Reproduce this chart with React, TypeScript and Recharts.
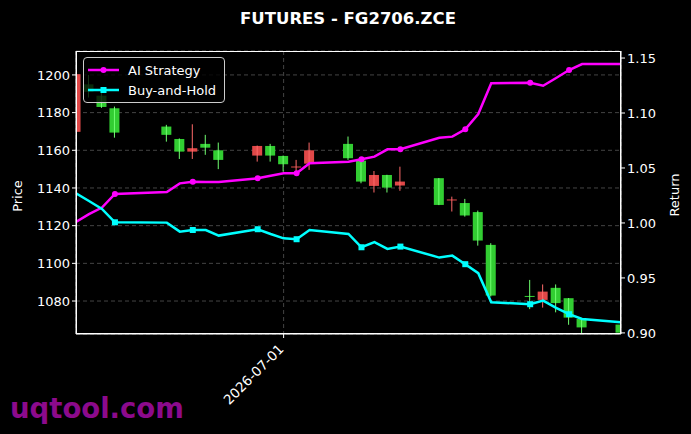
import React from 'react';
import {
	ComposedChart,
	Bar,
	Line,
	XAxis,
	YAxis,
	CartesianGrid,
	Legend,
} from 'recharts';

// trading days (Jun 19 is the Dragon Boat holiday)
const dates = [
	'2026-06-15', '2026-06-16', '2026-06-17', '2026-06-18', '2026-06-22',
	'2026-06-23', '2026-06-24', '2026-06-25', '2026-06-26', '2026-06-29',
	'2026-06-30', '2026-07-01', '2026-07-02', '2026-07-03', '2026-07-06',
	'2026-07-07', '2026-07-08', '2026-07-09', '2026-07-10', '2026-07-13',
	'2026-07-14', '2026-07-15', '2026-07-16', '2026-07-17', '2026-07-20',
	'2026-07-21', '2026-07-22', '2026-07-23', '2026-07-24', '2026-07-27',
];

const opens = [
	1169.8, 1195, 1189, 1182.3, 1172.6, 1166, 1159.3, 1163.4, 1160, 1157.2,
	1162.3, 1157, 1151, 1152.9, 1163.4, 1154.5, 1141.1, 1146.9, 1141.3, 1145.2,
	1133.5, 1132, 1127.2, 1109.8, 1082.7, 1080.6, 1087, 1081.5, 1070.5, 1067.5,
];
const highs = [
	1201, 1200, 1190.5, 1183.2, 1173.5, 1166.3, 1173.8, 1168.2, 1164.1, 1162.5,
	1163.4, 1157.2, 1154.9, 1164.1, 1167.3, 1155, 1149, 1147, 1151.3, 1145.3,
	1135.4, 1134.2, 1128, 1110.7, 1091.2, 1088.8, 1088.8, 1081.6, 1070.6, 1068,
];
const lows = [
	1168, 1188, 1182.5, 1166.7, 1164.6, 1155.4, 1155.4, 1157.6, 1150, 1154,
	1154, 1148.7, 1146.9, 1149.6, 1154.9, 1142.5, 1137.6, 1137.6, 1138.5, 1130.9,
	1127.5, 1124.8, 1109.4, 1082.4, 1075.7, 1076.5, 1074, 1067.4, 1061, 1061,
];
const closes = [
	1200.4, 1191, 1183, 1169.4, 1168.2, 1159.3, 1161.1, 1161.4, 1154.9, 1162.3,
	1157.2, 1152.6, 1151.4, 1160, 1155.8, 1143.4, 1146.9, 1140.2, 1143.4, 1131,
	1133.9, 1125.4, 1112.1, 1082.9, 1082.3, 1085, 1078.9, 1071.2, 1066, 1063.2,
];

const aiStrategy = [
	1.001, 1.008, 1.014, 1.0264, 1.0282, 1.036, 1.0375, 1.0373, 1.0373, 1.0406,
	1.043, 1.0452, 1.0452, 1.0543, 1.0557, 1.0579, 1.0603, 1.067, 1.067, 1.0775,
	1.0785, 1.0852, 1.099, 1.127, 1.1275, 1.1248, 1.1318, 1.1391, 1.1445, 1.1445,
];
const buyAndHold = [
	1.027, 1.02, 1.0127, 1.0006, 1.0003, 0.9921, 0.9936, 0.9936, 0.9885, 0.9943,
	0.99, 0.986, 0.9852, 0.9936, 0.99, 0.9779, 0.9825, 0.9764, 0.9785, 0.9685,
	0.9703, 0.9625, 0.9543, 0.9279, 0.9261, 0.9294, 0.9227, 0.917, 0.9127, 0.9097,
];

const priceTicks = [1080, 1100, 1120, 1140, 1160, 1180, 1200];
const returnTicks = [0.9, 0.95, 1.0, 1.05, 1.1, 1.15];
const dateTicks = ['2026-07-01'];

const toTime = (d: string) => Date.parse(d);

const data = dates.map((d, i) => ({
	t: toTime(d),
	open: opens[i],
	high: highs[i],
	low: lows[i],
	close: closes[i],
	ai: aiStrategy[i],
	bh: buyAndHold[i],
}));

const FONT = '"DejaVu Sans", sans-serif';
const UP = '#e04848';
const DOWN = '#32cd32';

const Candle = (props: any) => {
	const { x, y, width, height, payload } = props;
	if (x == null || y == null) return <g />;
	const { open, close, high, low } = payload;
	const top = Math.min(y, y + height);
	const h = Math.abs(height);
	const k = high > low ? h / (high - low) : 0;
	const py = (v: number) => top + (high - v) * k;
	const cx = x + width / 2;
	const up = close >= open;
	const bodyTop = py(Math.max(open, close));
	const bodyH = Math.max(py(Math.min(open, close)) - bodyTop, 1);
	return (
		<g>
			<rect x={cx - width / 2} y={bodyTop} width={width} height={bodyH} fill={up ? UP : DOWN} />
			<line x1={cx} x2={cx} y1={py(high)} y2={py(low)} stroke={up ? '#ff6a6a' : '#70ff70'} strokeWidth={1} />
		</g>
	);
};

const aiDot = (props: any) => {
	const { cx, cy, index } = props;
	if (index % 3 !== 0 || index === 0) return <g key={`ai-${index}`} />;
	return <circle key={`ai-${index}`} cx={cx} cy={cy} r={3} fill="#ff00ff" />;
};

const bhDot = (props: any) => {
	const { cx, cy, index } = props;
	if (index % 3 !== 0 || index === 0) return <g key={`bh-${index}`} />;
	return <rect key={`bh-${index}`} x={cx - 3} y={cy - 3} width={6} height={6} fill="#00ffff" />;
};

const DateTick = (props: any) => {
	const { x, y, payload } = props;
	const label = new Date(payload.value).toISOString().slice(0, 10);
	const ax = x + 1;
	const ay = y + 10;
	return (
		<text
			x={ax}
			y={ay}
			textAnchor="end"
			fill="#fff"
			fontSize={13.5}
			fontFamily={FONT}
			transform={`rotate(-45 ${ax} ${ay})`}
		>
			{label}
		</text>
	);
};

const LegendBox = () => (
	<div
		style={{
			background: 'rgba(0,0,0,0.8)',
			border: '1px solid #cccccc',
			borderRadius: 4,
			padding: '2px 8px 2px 4px',
			fontFamily: FONT,
			fontSize: 13,
			color: '#fff',
		}}
	>
		{[
			{ name: 'AI Strategy', color: '#ff00ff', square: false },
			{ name: 'Buy-and-Hold', color: '#00ffff', square: true },
		].map((item) => (
			<div key={item.name} style={{ display: 'flex', alignItems: 'center', height: 20 }}>
				<svg width={40} height={12}>
					<line x1={0} x2={31} y1={6} y2={6} stroke={item.color} strokeWidth={2.5} />
					{item.square ? (
						<rect x={12.5} y={3} width={6} height={6} fill={item.color} />
					) : (
						<circle cx={15.5} cy={6} r={3} fill={item.color} />
					)}
				</svg>
				<span>{item.name}</span>
			</div>
		))}
	</div>
);

export default function App() {
	return (
		<div style={{ position: 'fixed', left: 0, top: 0, width: 691, height: 434, background: '#000' }}>
			<ComposedChart
				width={691}
				height={434}
				data={data}
				margin={{ top: 51, right: 10, bottom: 0, left: 16 }}
			>
				<CartesianGrid yAxisId="left" stroke="#555" strokeDasharray="4 3" strokeWidth={0.8} />
				<XAxis
					dataKey="t"
					type="number"
					domain={[toTime(dates[0]), toTime(dates[dates.length - 1])]}
					ticks={dateTicks.map(toTime)}
					allowDataOverflow
					height={100}
					tick={<DateTick />}
					tickLine={{ stroke: '#fff' }}
					tickSize={4}
					axisLine={{ stroke: '#fff' }}
				/>
				<YAxis
					yAxisId="left"
					width={60}
					domain={[1062.5, 1212.7]}
					ticks={priceTicks}
					allowDataOverflow
					tick={{ fill: '#fff', fontSize: 13, fontFamily: FONT }}
					tickLine={{ stroke: '#fff' }}
					tickSize={4}
					axisLine={{ stroke: '#fff' }}
				/>
				<YAxis
					yAxisId="right"
					orientation="right"
					width={60}
					domain={[0.899, 1.1564]}
					ticks={returnTicks}
					allowDataOverflow
					tickFormatter={(v: number) => v.toFixed(2)}
					tick={{ fill: '#fff', fontSize: 13, fontFamily: FONT }}
					tickLine={{ stroke: '#fff' }}
					tickSize={4}
					axisLine={{ stroke: '#fff' }}
				/>
				<Bar
					yAxisId="left"
					dataKey={(d: any) => [d.low, d.high]}
					barSize={10}
					shape={<Candle />}
					isAnimationActive={false}
				/>
				<Line
					yAxisId="right"
					dataKey="ai"
					stroke="#ff00ff"
					strokeWidth={2.5}
					dot={aiDot}
					activeDot={false}
					isAnimationActive={false}
				/>
				<Line
					yAxisId="right"
					dataKey="bh"
					stroke="#00ffff"
					strokeWidth={2.5}
					dot={bhDot}
					activeDot={false}
					isAnimationActive={false}
				/>
				<Legend
					layout="horizontal"
					verticalAlign="middle"
					align="center"
					content={<LegendBox />}
					wrapperStyle={{ top: 57, left: 83, width: 'auto', height: 'auto' }}
				/>
			</ComposedChart>
			<div
				style={{
					position: 'absolute',
					left: 76,
					top: 51,
					width: 545,
					height: 283,
					border: '1px solid #fff',
					boxSizing: 'border-box',
					pointerEvents: 'none',
				}}
			/>
			<svg width={691} height={434} style={{ position: 'absolute', left: 0, top: 0, pointerEvents: 'none' }}>
				<text x={348} y={24} textAnchor="middle" fill="#fff" fontFamily={FONT} fontWeight="bold" fontSize={16.5}>
					FUTURES - FG2706.ZCE
				</text>
				<text
					x={17}
					y={196}
					textAnchor="middle"
					dominantBaseline="central"
					fill="#fff"
					fontFamily={FONT}
					fontSize={13}
					transform="rotate(-90 17 196)"
				>
					Price
				</text>
				<text
					x={674}
					y={195}
					textAnchor="middle"
					dominantBaseline="central"
					fill="#fff"
					fontFamily={FONT}
					fontSize={13}
					transform="rotate(-90 674 195)"
				>
					Return
				</text>
				<text x={10} y={418} fill="#8c0a8c" fontFamily={FONT} fontWeight="bold" fontSize={27.5}>
					uqtool.com
				</text>
			</svg>
		</div>
	);
}
